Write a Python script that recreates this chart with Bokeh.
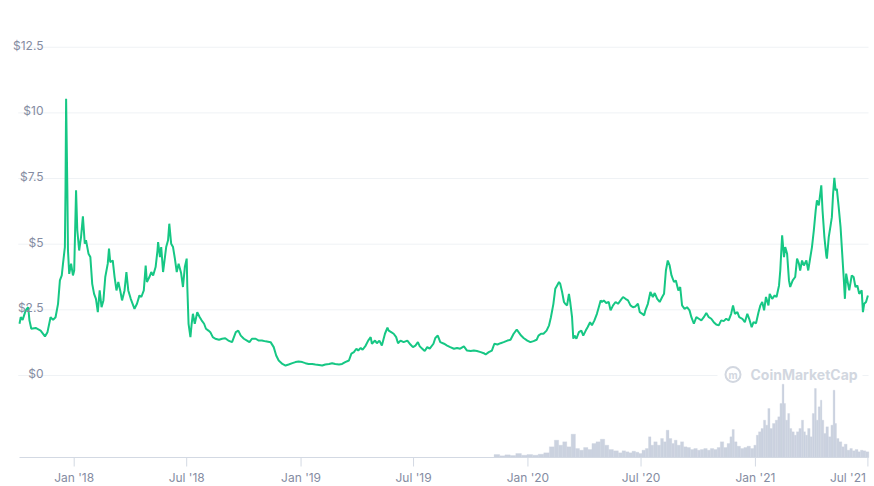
import numpy as np
import pandas as pd
from bokeh.plotting import figure
from bokeh.models import Range1d
from bokeh.core.properties import value
from bokeh.embed import file_html
from bokeh.resources import INLINE

# ---------------- data ----------------
start_date = "2017-10-05"

price_day = [
    0, 2, 5, 10, 14, 16, 19, 26, 34, 41,
    45, 50, 54, 58, 62, 65, 68, 70, 73, 74,
    75, 77, 78, 80, 83, 86, 88, 91, 93, 96,
    99, 102, 105, 107, 111, 114, 117, 120, 123, 126,
    129, 132, 135, 138, 142, 144, 146, 150, 153, 156,
    159, 162, 165, 169, 172, 175, 179, 182, 185, 189,
    193, 196, 200, 203, 205, 209, 212, 215, 219, 222,
    223, 226, 228, 231, 234, 236, 239, 241, 244, 247,
    250, 253, 256, 260, 263, 266, 269, 270, 272, 275,
    277, 279, 282, 286, 290, 293, 297, 300, 304, 307,
    311, 315, 321, 326, 331, 336,
    342, 348, 352, 356, 361, 366, 370, 374, 380, 385,
    390, 396, 404, 409, 413, 417, 423, 428, 433, 439,
    444, 449, 455, 460, 465, 471, 476, 482, 487, 492,
    498, 503, 508, 514, 519, 524, 530, 534, 538, 542,
    545, 549, 552, 557, 561, 565, 567, 572, 575, 579,
    583, 588, 592, 594, 598, 602, 606, 609, 613, 618,
    624, 629, 633, 637, 641, 644, 648, 652, 656, 660,
    666, 669, 673, 677, 683, 688, 693, 699, 704, 709,
    715, 720, 726, 731, 736, 742, 747, 750, 755, 760,
    764, 769, 774, 779, 785, 790, 795, 800, 803, 807,
    811, 817, 822, 827, 832, 835, 839, 843, 848, 852,
    855, 859, 862, 865, 868, 870, 873, 876, 878, 881,
    884, 886, 889, 891, 893, 896, 900, 904, 907, 911,
    914, 918, 921, 925, 929, 932, 935, 937, 940, 944,
    948, 951, 955, 959, 963, 967, 971, 975, 979, 983,
    987, 991, 995, 998, 1002, 1005,
    1007, 1011, 1015, 1019, 1022, 1026, 1030, 1034, 1037, 1040,
    1043, 1046, 1049, 1053, 1056, 1060, 1063, 1066, 1070, 1074,
    1078, 1081, 1085, 1089, 1093, 1097, 1101, 1105, 1109, 1113,
    1117, 1121, 1125, 1129, 1133, 1137, 1141, 1145, 1148, 1151,
    1155, 1158, 1163, 1167, 1171, 1174, 1178, 1181, 1185, 1189,
    1192, 1195, 1198, 1201, 1205, 1207, 1211, 1215, 1218, 1222,
    1224, 1227, 1230, 1232, 1235, 1238, 1240, 1244, 1248, 1251,
    1254, 1256, 1259, 1262, 1266, 1269, 1272, 1275, 1278, 1281,
    1283, 1286, 1289, 1290, 1292, 1295, 1298, 1299, 1302, 1305,
    1307, 1309, 1311, 1313, 1315, 1318, 1321, 1324, 1326, 1328,
    1330, 1333, 1335, 1339, 1342, 1345, 1348, 1351, 1355, 1357,
    1359, 1362, 1365,
]

price_usd = [
    1.97, 2.22, 2.12, 2.48, 2.60, 2.10, 1.78, 1.81, 1.71, 1.49,
    1.65, 2.22, 2.12, 2.22, 2.73, 3.62, 3.81, 4.26, 4.89, 7.05,
    10.54, 7.05, 4.76, 3.87, 4.26, 3.81, 4.00, 7.05, 5.53, 4.76,
    5.27, 6.06, 5.02, 5.15, 4.64, 4.51, 3.49, 3.11, 2.92, 2.41,
    3.24, 2.60, 2.86, 3.75, 4.26, 4.83, 4.32, 4.38, 3.75, 3.24,
    3.56, 3.24, 2.86, 3.24, 3.94, 3.24, 2.92, 2.73, 2.54, 2.73,
    3.05, 2.99, 3.24, 4.19, 3.56, 3.75, 3.94, 3.81, 4.13, 4.76,
    5.08, 4.51, 4.89, 3.94, 4.51, 4.89, 5.15, 5.78, 5.02, 4.89,
    4.45, 3.94, 4.26, 3.90, 3.37, 4.13, 4.45, 3.37, 1.97, 1.46,
    1.97, 2.35, 1.97, 2.41, 2.22, 2.10, 1.97, 1.78, 1.71, 1.65,
    1.46, 1.40, 1.36, 1.40, 1.42, 1.33,
    1.27, 1.65, 1.71, 1.52, 1.40, 1.33, 1.27, 1.40, 1.40, 1.33,
    1.33, 1.30, 1.27, 1.08, 0.76, 0.57, 0.44, 0.38, 0.42, 0.47,
    0.51, 0.53, 0.51, 0.47, 0.44, 0.44, 0.42, 0.40, 0.38, 0.42,
    0.44, 0.47, 0.44, 0.42, 0.44, 0.51, 0.57, 0.83, 0.89, 1.02,
    0.95, 1.05, 0.98, 1.14, 1.33, 1.46, 1.21, 1.33, 1.23, 1.33,
    1.14, 1.59, 1.82, 1.71, 1.65, 1.59, 1.46, 1.23, 1.33, 1.27,
    1.33, 1.18, 1.08, 1.14, 1.27, 1.11, 1.02, 0.93, 1.08, 1.02,
    1.21, 1.43, 1.52, 1.27, 1.21, 1.14, 1.08, 1.02, 1.05, 1.02,
    1.11, 0.95, 0.93, 0.95, 0.93, 0.89, 0.85, 0.80, 0.89, 0.95,
    1.21, 1.18, 1.23, 1.27, 1.33, 1.36, 1.59, 1.75, 1.65, 1.52,
    1.43, 1.33, 1.27, 1.31, 1.36, 1.52, 1.59, 1.59, 1.71, 1.91,
    2.22, 2.73, 3.30, 3.43, 3.56, 3.49, 3.18, 2.80, 2.73, 2.67,
    3.11, 2.80, 2.22, 1.40, 1.52, 1.40, 1.65, 1.71, 1.52, 1.71,
    1.84, 2.03, 1.91, 2.10, 2.35, 2.60, 2.86, 2.80, 2.86, 2.76,
    2.80, 2.48, 2.67, 2.80, 2.73, 2.86, 2.99, 2.92, 2.86, 2.67,
    2.60, 2.63, 2.73, 2.41, 2.35, 2.29,
    2.48, 2.73, 3.18, 2.99, 3.14, 2.92, 2.80, 2.99, 3.11, 4.00,
    4.38, 4.19, 3.81, 3.56, 3.62, 3.24, 3.37, 2.67, 2.54, 2.60,
    2.48, 2.22, 1.97, 2.22, 2.16, 2.10, 2.22, 2.38, 2.22, 2.16,
    2.03, 1.94, 1.91, 2.10, 2.07, 2.16, 2.10, 2.35, 2.67, 2.35,
    2.41, 2.22, 2.16, 2.03, 2.35, 2.16, 1.84, 2.03, 1.99, 2.41,
    2.67, 2.80, 2.48, 2.99, 2.67, 3.11, 2.92, 3.05, 2.99, 3.43,
    4.00, 5.34, 4.51, 4.89, 4.64, 3.62, 3.37, 3.62, 3.75, 4.45,
    4.26, 4.00, 4.38, 4.19, 4.38, 4.00, 4.45, 4.89, 5.53, 6.29,
    6.67, 6.48, 7.05, 7.24, 6.29, 5.27, 4.57, 4.45, 5.27, 5.72,
    6.03, 6.92, 7.53, 7.05, 7.11, 6.41, 5.65, 4.51, 3.75, 2.92,
    3.88, 3.49, 3.24, 3.81, 3.75, 3.37, 3.43, 3.11, 3.24, 2.41,
    2.73, 2.80, 3.05,
]

volume_day = [
    768, 777, 785, 794, 803, 812, 821, 830, 839, 848,
    857, 864, 871, 877, 884, 891, 898, 904, 911, 918,
    924, 931, 938, 945, 951, 960, 967, 972, 978, 983,
    988, 994, 999, 1004, 1010, 1014, 1018, 1023, 1029, 1034,
    1038, 1043, 1047, 1052, 1055, 1061, 1066, 1071, 1077, 1082,
    1088, 1093, 1098, 1104, 1109, 1114, 1120, 1125, 1130, 1136,
    1141, 1145, 1148, 1152, 1157, 1163, 1168, 1173, 1179, 1184,
    1187, 1191, 1195, 1199, 1202, 1206, 1209, 1214, 1218, 1222,
    1225, 1229, 1231, 1234, 1238, 1240, 1245, 1248, 1252, 1256,
    1260, 1263, 1266, 1270, 1274, 1277, 1281, 1283, 1287, 1290,
    1292, 1296, 1299, 1304, 1307, 1311, 1313, 1316, 1321, 1325,
    1329, 1334, 1338, 1342, 1347, 1351, 1355, 1359, 1364,
]

volume_musd = [
    30, 17, 27, 20, 40, 23, 30, 23, 33, 47,
    107, 173, 123, 157, 107, 233, 90, 73, 100, 80,
    140, 157, 183, 123, 80, 67, 47, 67, 57, 47,
    63, 53, 40, 73, 90, 207, 123, 157, 123, 190,
    157, 273, 190, 140, 173, 123, 157, 107, 100, 80,
    90, 73, 80, 90, 73, 90, 80, 100, 157, 100,
    140, 207, 280, 157, 113, 90, 100, 113, 90, 123,
    223, 257, 290, 373, 323, 490, 290, 340, 373, 407,
    540, 733, 540, 373, 440, 290, 257, 223, 257, 290,
    373, 257, 223, 290, 207, 440, 690, 373, 507, 573,
    373, 240, 307, 207, 323, 673, 340, 190, 157, 107,
    133, 73, 90, 67, 80, 57, 73, 67, 57,
]

y_ticks = [0, 2.5, 5, 7.5, 10, 12.5]
y_tick_labels = ["$0", "$2.5", "$5", "$7.5", "$10", "$12.5"]

x_ticks = ["2018-01-01", "2018-07-01", "2019-01-01", "2019-07-01",
           "2020-01-01", "2020-07-01", "2021-01-01", "2021-07-01"]
x_tick_labels = ["Jan '18", "Jul '18", "Jan '19", "Jul '19",
                 "Jan '20", "Jul '20", "Jan '21", "Jul '21"]

watermark_text = "CoinMarketCap"

# ---------------- derived ----------------
t0 = pd.Timestamp(start_date)
price_dates = t0 + pd.to_timedelta(price_day, unit="D")
vol_dates = t0 + pd.to_timedelta(volume_day, unit="D")
tick_dates = pd.to_datetime(x_ticks)

vms = np.array([d.value // 10**6 for d in vol_dates], dtype=float)
mids = (vms[:-1] + vms[1:]) / 2
left = np.concatenate([[vms[0] - (vms[1] - vms[0]) / 2], mids])
right = np.concatenate([mids, [vms[-1] + (vms[-1] - vms[-2]) / 2]])

# ---------------- styling / layout constants ----------------
GREEN = "#16c784"
GRID = "#eff2f5"
LABEL = "#858ca2"
AXIS = "#d3d9e3"
VOL = "#cbd2df"
WM = "#d2d7e0"
FONT = "Inter"

W, H = 874, 486
DPX = 1.6089            # days per pixel
PPD = 26.26             # pixels per dollar
ZERO_PX = 375           # page y of the $0 line
BASE_PX = 457           # page y of the volume baseline / x axis
DATA_LEFT_PX = 19       # page x of the first data point

x_start = price_dates[0] - pd.Timedelta(days=DATA_LEFT_PX * DPX)
x_end = x_start + pd.Timedelta(days=W * DPX)
Y_TOP = ZERO_PX / PPD
Y_BOT = (ZERO_PX - H) / PPD
VOL_PER_PX = 10.0


def page_x(px):
    return x_start + pd.Timedelta(days=px * DPX)


def page_y(py):
    return (ZERO_PX - py) / PPD


p = figure(width=W, height=H, x_axis_type="datetime",
           x_range=Range1d(x_start, x_end), y_range=Range1d(Y_BOT, Y_TOP),
           x_axis_location=None, y_axis_location=None,
           output_backend="svg", toolbar_location=None,
           min_border=0)
p.extra_y_ranges = {"vol": Range1d(-(H - BASE_PX) * VOL_PER_PX,
                                   BASE_PX * VOL_PER_PX)}
p.outline_line_color = None
p.background_fill_color = "white"
p.border_fill_color = "white"
p.xgrid.visible = False
p.ygrid.visible = False

axis_x0 = price_dates[0]
axis_x1 = tick_dates[-1] + pd.Timedelta(days=1)

# horizontal grid lines
grid_x0 = price_dates[0] - pd.Timedelta(days=2)
p.segment(x0=[grid_x0] * len(y_ticks), y0=y_ticks,
          x1=[axis_x1] * len(y_ticks), y1=y_ticks,
          line_color=GRID, line_width=1)

# volume bars
p.quad(left=left, right=right, bottom=0, top=volume_musd,
       y_range_name="vol", fill_color=VOL, line_color=VOL, line_width=0.3)

# x axis: line, ticks and labels
p.segment(x0=[axis_x0], y0=[0], x1=[axis_x1], y1=[0], y_range_name="vol",
          line_color=AXIS, line_width=1)
p.segment(x0=tick_dates, y0=[0] * len(tick_dates), x1=tick_dates,
          y1=[-9 * VOL_PER_PX] * len(tick_dates), y_range_name="vol",
          line_color=AXIS, line_width=1)
p.text(x=tick_dates[:-1], y=[-20 * VOL_PER_PX] * (len(tick_dates) - 1),
       text=x_tick_labels[:-1], y_range_name="vol", text_align="center",
       text_baseline="alphabetic", text_font=value(FONT),
       text_font_size="12px", text_color=LABEL)
p.text(x=tick_dates[-1:], y=[-20 * VOL_PER_PX], text=x_tick_labels[-1:],
       y_range_name="vol", text_align="right", x_offset=-2,
       text_baseline="alphabetic", text_font=value(FONT),
       text_font_size="12px", text_color=LABEL)

# watermark
p.quad(left=[page_x(717)], right=[page_x(862)], bottom=[page_y(381)],
       top=[page_y(366)], fill_color="white", line_color=None)
p.scatter(x=[page_x(732.5)], y=[page_y(374)], marker="circle", size=15,
          fill_color=None, line_color=WM, line_width=2)
p.text(x=[page_x(732.5)], y=[page_y(374.5)], text=["m"], text_align="center",
       text_baseline="middle", text_font=value(FONT), text_font_size="10px",
       text_font_style="bold", text_color=WM)
p.text(x=[page_x(750)], y=[page_y(374)], text=[watermark_text],
       text_align="left", text_baseline="middle", text_font=value(FONT),
       text_font_size="14px", text_font_style="bold", text_color=WM)

# price line
p.line(price_dates, price_usd, line_color=GREEN, line_width=2)

# y tick labels (drawn over the grid, like the original)
p.text(x=[price_dates[0]] * len(y_ticks), y=y_ticks, text=y_tick_labels,
       x_offset=24, y_offset=-2, text_align="right",
       text_baseline="alphabetic", text_font=value(FONT),
       text_font_size="12px", text_color=LABEL)

open("out.html", "w").write(file_html(p, INLINE))
